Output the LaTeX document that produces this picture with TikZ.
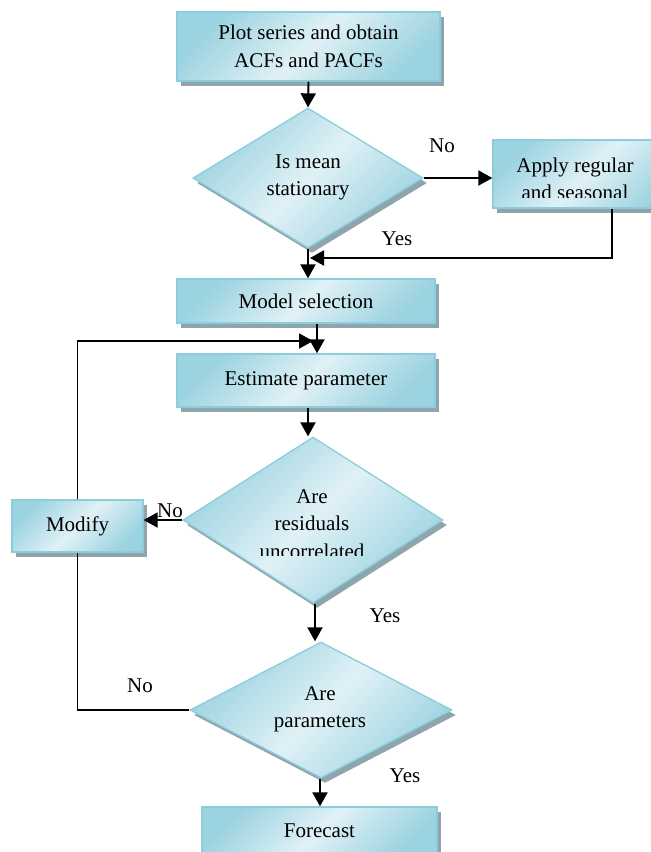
\documentclass[tikz,border=0pt]{standalone}
\usepackage{fontspec}
\setmainfont{Liberation Serif}
\usetikzlibrary{shapes.geometric,shadows,arrows.meta}
\definecolor{bord}{RGB}{140,204,220}
\definecolor{fdark}{RGB}{156,211,224}
\definecolor{flight}{RGB}{224,241,246}
\definecolor{shad}{RGB}{143,165,172}
\newcommand\vlines[1]{\vtop{\halign{\hfil##\hfil\cr#1\crcr}}}
\tikzset{
  txt/.style={font=\fontsize{21}{27.5}\selectfont, inner sep=0pt},
  fillstyle/.style={draw=bord, line width=1.3pt,
    top color=fdark, bottom color=fdark, middle color=flight, shading angle=45,
    drop shadow={shadow xshift=4pt, shadow yshift=-5pt, fill=shad, opacity=1}},
  procbox/.style={rectangle, fillstyle, txt, align=center},
  decide/.style={diamond, fillstyle, inner sep=0pt, aspect=1.6},
  arr/.style={line width=1.9pt, -{Triangle[length=14pt,width=15pt]}},
  ln/.style={line width=1.9pt},
  lbl/.style={txt, anchor=base}
}
\begin{document}
\begin{tikzpicture}[x=1pt,y=-1pt]
\clip (0,0) rectangle (651,852);
\fill[white] (0,0) rectangle (651,852);

% nodes
\node[procbox, minimum width=263pt, minimum height=69pt] (plot) at (308.5,46.5)
  {Plot series and obtain\\ACFs and PACFs};
\node[decide, minimum width=230pt, minimum height=140pt] (d1) at (308,178) {};
\node[procbox, minimum width=190pt, minimum height=68pt] (apply) at (588,174) {};
\node[procbox, minimum width=258pt, minimum height=44pt] (model) at (306,301) {Model selection};
\node[procbox, minimum width=258pt, minimum height=53pt] (est) at (306,380.5) {Estimate parameter};
\node[decide, minimum width=260pt, minimum height=166pt] (d2) at (313,520) {};
\node[procbox, minimum width=131pt, minimum height=52pt] (modify) at (77.5,526) {Modify};
\node[decide, minimum width=262pt, minimum height=136pt] (d3) at (321,710) {};
\node[procbox, minimum width=235pt, minimum height=48pt] (fc) at (319.5,831) {Forecast};

% texts in decisions
\node[lbl] (d1t) at (308,168) {\vlines{Is mean\cr stationary}};
\node[lbl] (d3t) at (320,700) {\vlines{Are\cr parameters}};
\begin{scope}
  \clip (493,140) rectangle (680,197);
  \node[lbl] (applyt) at (575,172) {\vlines{Apply regular\cr and seasonal}};
\end{scope}
\begin{scope}
  \clip (150,430) rectangle (470,555);
  \node[lbl] (d2t) at (312,503) {\vlines{Are\cr residuals\cr uncorrelated}};
\end{scope}

% coordinates
\coordinate (j1) at (310,258);
\coordinate (j2) at (612,258);
\coordinate (mx) at (317,0);
\coordinate (fb) at (313,341);
\coordinate (ex) at (308,0);
\coordinate (d2x) at (315,0);
\coordinate (d3x) at (320,0);

% connectors
\draw[arr] (plot.south) -- (d1.north);
\draw[arr] (d1.east) -- (d1.east -| apply.west);
\draw[arr] (apply.south -| j2) -- (j2) -- (j1);
\draw[arr] (d1.south) -- (d1.south |- model.north);
\draw[arr] (model.south -| mx) -- (est.north -| mx);
\draw[arr] (modify.north) |- (fb);
\draw[arr] (est.south -| ex) -- (d2.north -| ex);
\draw[arr] (d2.west) -- (d2.west -| modify.east);
\draw[arr] (d2.south -| d2x) -- (d3.north -| d2x);
\draw[ln] (d3.west) -| (modify.south);
\draw[arr] (d3.south -| d3x) -- (fc.north -| d3x);

% labels
\node[lbl] (no1) at (442,152) {No};
\node[lbl] (yes1) at (397,245) {Yes};
\node[lbl] (no2) at (170,517) {No};
\node[lbl] (yes2) at (385,622) {Yes};
\node[lbl] (no3) at (140,692) {No};
\node[lbl] (yes3) at (405,782) {Yes};
\end{tikzpicture}
\end{document}
